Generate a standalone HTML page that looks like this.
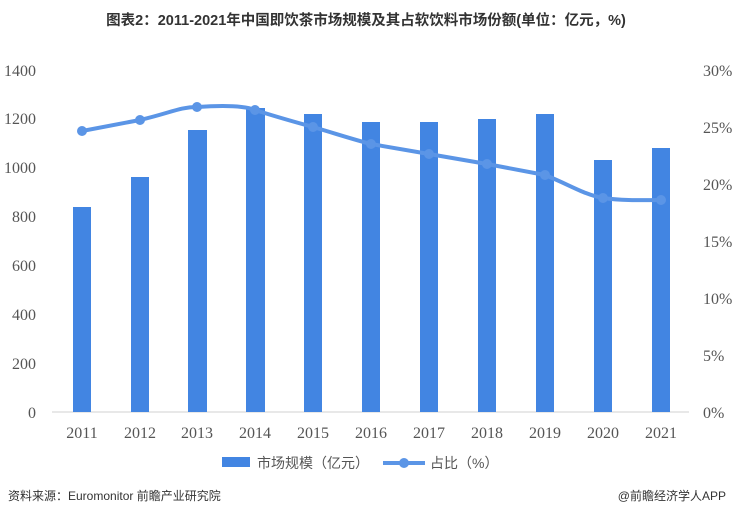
<!DOCTYPE html>
<html><head><meta charset="utf-8"><style>
body{margin:0;background:#fff;width:732px;height:517px;overflow:hidden;font-family:"Liberation Sans","Noto Sans CJK SC",sans-serif}
</style></head><body>
<svg width="732" height="517" xmlns="http://www.w3.org/2000/svg">
<text x="366" y="25" text-anchor="middle" font-size="14.5" font-weight="bold" fill="#333" font-family="Liberation Sans, Noto Sans CJK SC, sans-serif">图表2：2011-2021年中国即饮茶市场规模及其占软饮料市场份额(单位：亿元，%)</text>
<g font-family="Liberation Serif, serif" font-size="16" fill="#555" text-anchor="end">
<text x="36" y="418">0</text><text x="36" y="369">200</text><text x="36" y="320">400</text><text x="36" y="271">600</text><text x="36" y="222">800</text><text x="36" y="173">1000</text><text x="36" y="124">1200</text><text x="36" y="76">1400</text>
</g>
<g font-family="Liberation Serif, serif" font-size="16" fill="#555">
<text x="703" y="418">0%</text><text x="703" y="361">5%</text><text x="703" y="304">10%</text><text x="703" y="247">15%</text><text x="703" y="190">20%</text><text x="703" y="133">25%</text><text x="703" y="76">30%</text>
</g>
<line x1="52" y1="412" x2="689" y2="412" stroke="#d0d0d0" stroke-width="1"/>
<g fill="#4285e2">
<rect x="73" y="207" width="18" height="205"/>
<rect x="131" y="177" width="18" height="235"/>
<rect x="188" y="130" width="19" height="282"/>
<rect x="246" y="108" width="19" height="304"/>
<rect x="304" y="114" width="18" height="298"/>
<rect x="362" y="122" width="18" height="290"/>
<rect x="420" y="122" width="18" height="290"/>
<rect x="478" y="119" width="18" height="293"/>
<rect x="536" y="114" width="18" height="298"/>
<rect x="594" y="160" width="18" height="252"/>
<rect x="652" y="148" width="18" height="264"/>
</g>
<path d="M82,131 L140,120 C170,113 180,107 197,107 C225,105 245,106 255,110 C280,118 295,122 313,127 C340,135 355,140 371,144 L429,154 L487,164 L545,175 C570,185 585,195 603,198 C625,201 645,200 661,200" fill="none" stroke="#5b95e6" stroke-width="4" stroke-linejoin="round"/>
<g fill="#5b95e6">
<circle cx="82" cy="131" r="5"/><circle cx="140" cy="120" r="5"/><circle cx="197" cy="107" r="5"/><circle cx="255" cy="110" r="5"/><circle cx="313" cy="127" r="5"/><circle cx="371" cy="144" r="5"/><circle cx="429" cy="154" r="5"/><circle cx="487" cy="164" r="5"/><circle cx="545" cy="175" r="5"/><circle cx="603" cy="198" r="5"/><circle cx="661" cy="200" r="5"/>
</g>
<g font-family="Liberation Serif, serif" font-size="16" fill="#555" text-anchor="middle">
<text x="82" y="438">2011</text><text x="140" y="438">2012</text><text x="197" y="438">2013</text><text x="255" y="438">2014</text><text x="313" y="438">2015</text><text x="371" y="438">2016</text><text x="429" y="438">2017</text><text x="487" y="438">2018</text><text x="545" y="438">2019</text><text x="603" y="438">2020</text><text x="661" y="438">2021</text>
</g>
<rect x="222" y="457" width="28" height="10" fill="#4285e2"/>
<text x="257" y="468" font-size="14" fill="#555">市场规模（亿元）</text>
<line x1="383" y1="463" x2="425" y2="463" stroke="#5b95e6" stroke-width="4"/>
<circle cx="404" cy="463" r="5" fill="#5b95e6"/>
<text x="430" y="468" font-size="14" fill="#555">占比（%）</text>
<text x="8" y="500" font-size="12" fill="#333">资料来源：Euromonitor 前瞻产业研究院</text>
<text x="726" y="500" font-size="12" fill="#333" text-anchor="end">@前瞻经济学人APP</text>
</svg>
</body></html>
